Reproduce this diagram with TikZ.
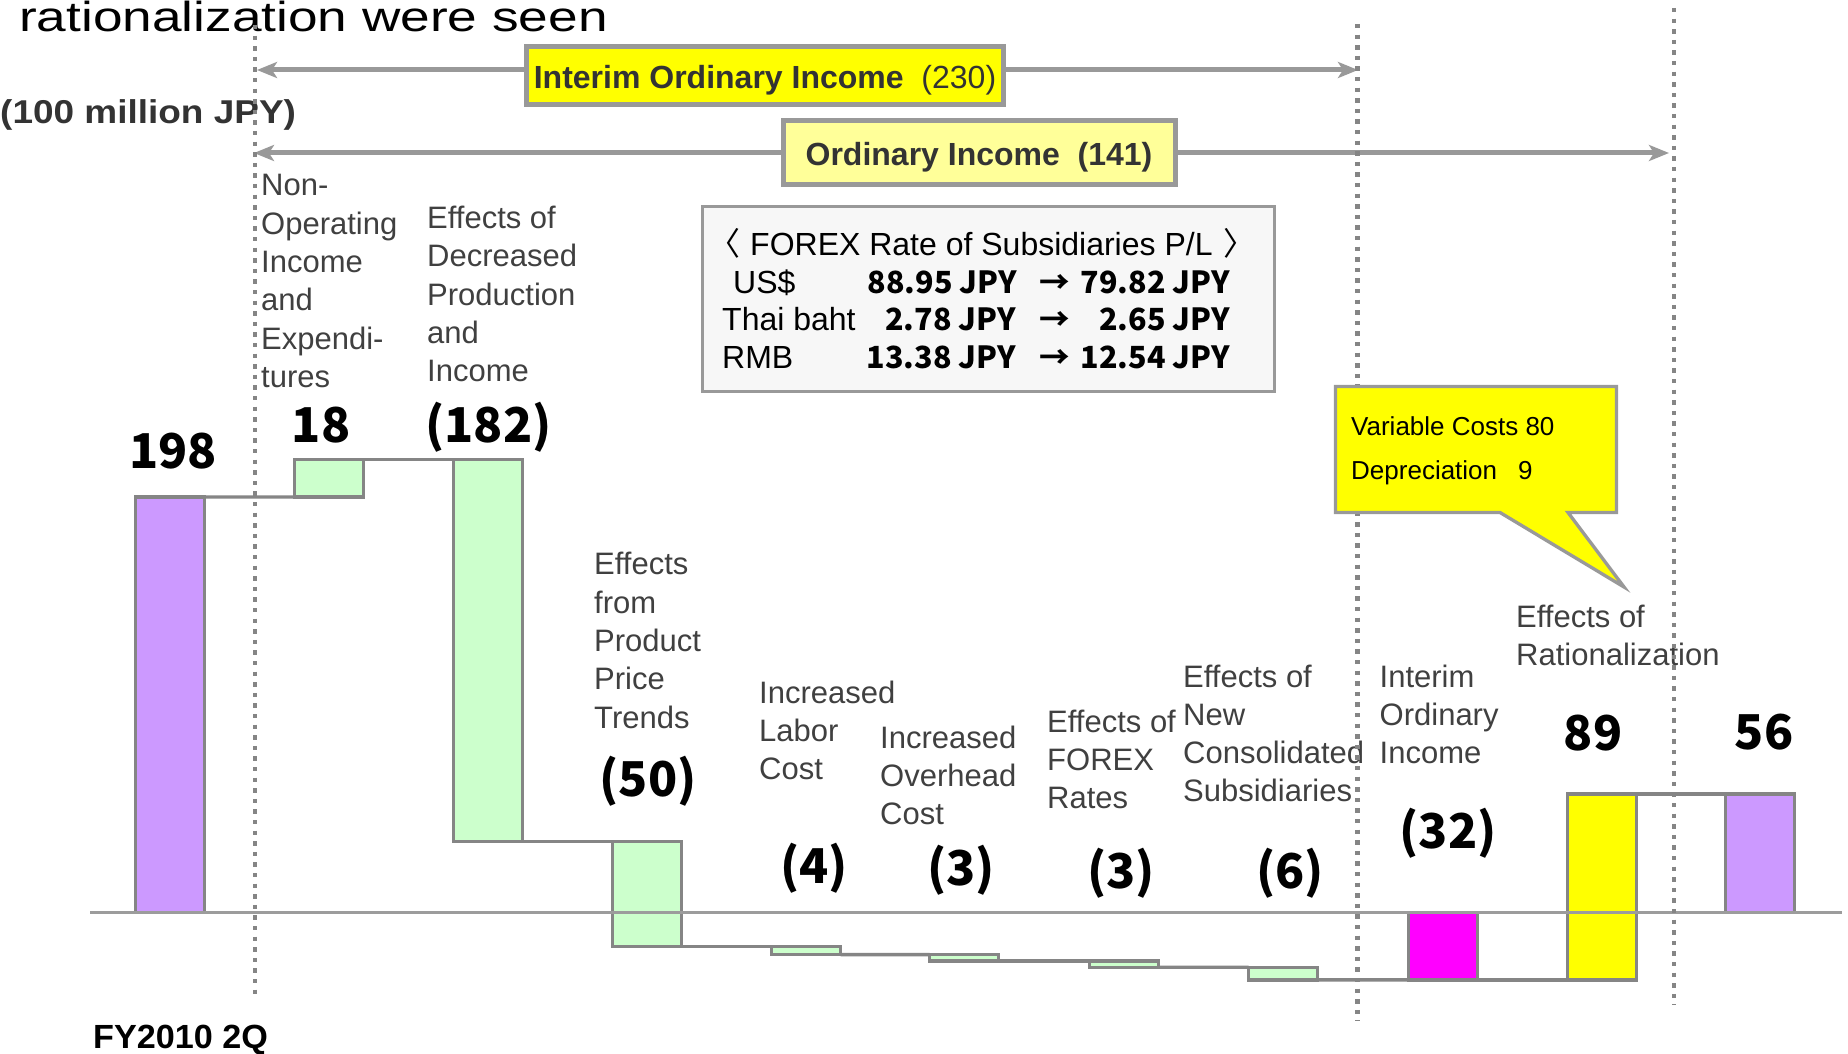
\documentclass[tikz,border=0pt]{standalone}
\usepackage{fontspec}
\setmainfont{Liberation Sans}
\newfontfamily\numfont{Noto Sans CJK JP}
\usetikzlibrary{arrows.meta}

\definecolor{edgegray}{HTML}{858585}
\definecolor{axisgray}{HTML}{9C9C9C}
\definecolor{linegray}{HTML}{999999}
\definecolor{labelgray}{HTML}{404040}
\definecolor{textdark}{HTML}{333333}
\definecolor{barpurple}{HTML}{CC99FF}
\definecolor{bargreen}{HTML}{CCFFCC}
\definecolor{barmagenta}{HTML}{FF00FF}
\definecolor{baryellow}{HTML}{FFFF00}
\definecolor{paleyellow}{HTML}{FFFF99}
\definecolor{boxfill}{HTML}{F7F7F7}

% one waterfall bar: name, centre x, top y, bottom y, fill
\newcommand\wfbar[5]{%
  \node[wbar, fill=#5, minimum height={(#4)-(#3)}] (#1) at (#2,{((#3)+(#4))/2}) {};}

\begin{document}
\begin{tikzpicture}[x=1pt,y=-1pt,
  wbar/.style={draw=edgegray, line width=3.4pt, minimum width=69pt, inner sep=0pt, outer sep=0pt},
  link/.style={draw=edgegray, line width=3.4pt},
  axisline/.style={draw=axisgray, line width=3.2pt},
  divider/.style={draw=edgegray, line width=4.4pt, dash pattern=on 4.4pt off 6.2pt},
  span/.style={draw=linegray, line width=5pt, -{Stealth[length=20pt,width=16pt,inset=5pt]}},
  cat/.style={anchor=north west, align=left, inner sep=0pt, text=labelgray,
    font=\fontsize{31}{38.3}\selectfont},
  val/.style={anchor=base, inner sep=0pt, font={\numfont\bfseries\fontsize{48}{48}\selectfont}},
  fxname/.style={anchor=base west, inner sep=0pt, font=\fontsize{32}{32}\selectfont},
  fxnum/.style={inner sep=0pt, font={\numfont\bfseries\fontsize{30.5}{30.5}\selectfont}},
  banner/.style={draw=linegray, line width=5pt, inner sep=0pt, text=textdark,
    text height=25pt, text depth=0pt, font=\fontsize{32}{32}\selectfont}
]
\useasboundingbox (0,0) rectangle (1848,1054);
\fill[white] (0,0) rectangle (1848,1054);
\clip (0,0) rectangle (1848,1054);

% heading fragment and unit
\node[anchor=base west, inner sep=0pt, xscale=1.267, font=\fontsize{42}{42}\selectfont]
  (title) at (19,32) {rationalization were seen};
\node[anchor=base west, inner sep=0pt, xscale=1.12, text=textdark,
  font=\bfseries\fontsize{33}{33}\selectfont] (unit) at (0,123.3) {(100 million JPY)};
\node[anchor=base west, inner sep=0pt, xscale=1.02, font=\bfseries\fontsize{33.5}{33.5}\selectfont]
  (fy) at (93,1048.5) {FY2010 2Q};

% waterfall bars
\wfbar{b0}{170}{497.0}{912.6}{barpurple}
\wfbar{b1}{329}{459.2}{497.0}{bargreen}
\wfbar{b2}{488}{459.2}{841.2}{bargreen}
\wfbar{b3}{647}{841.2}{946.2}{bargreen}
\wfbar{b4}{806}{946.2}{954.6}{bargreen}
\wfbar{b5}{964}{954.6}{960.9}{bargreen}
\wfbar{b6}{1124}{960.9}{967.2}{bargreen}
\wfbar{b7}{1283}{967.2}{979.8}{bargreen}
\wfbar{b8}{1443}{912.6}{979.8}{barmagenta}
\wfbar{b9}{1602}{794.0}{979.8}{baryellow}
\wfbar{b10}{1760}{794.0}{912.6}{barpurple}

% running-total links
\draw[link] (b0.north east) -- (b1.south west);
\draw[link] (b1.north east) -- (b2.north west);
\draw[link] (b2.south east) -- (b3.north west);
\draw[link] (b3.south east) -- (b4.north west);
\draw[link] (b4.south east) -- (b5.north west);
\draw[link] (b5.south east) -- (b6.north west);
\draw[link] (b6.south east) -- (b7.north west);
\draw[link] (b7.south east) -- (b8.south west);
\draw[link] (b8.south east) -- (b9.south west);
\draw[link] (b9.north east) -- (b10.north west);

% zero line
\coordinate (axL) at (90,912.6);
\coordinate (axR) at (1842,912.6);
\draw[axisline] (axL) -- (axR);

% values
\node[val] (v0) at (173,468) {198};
\node[val] (v1) at (321,442) {18};
\node[val] (v2) at (488.5,442) {(182)};
\node[val] (v3) at (648,796) {(50)};
\node[val] (v4) at (814,883) {(4)};
\node[val] (v5) at (961,885) {(3)};
\node[val] (v6) at (1121,888) {(3)};
\node[val] (v7) at (1290,888) {(6)};
\node[val] (v8) at (1448,848) {(32)};
\node[val] (v9) at (1593,750) {89};
\node[val] (v10) at (1764,749) {56};

% category captions
\node[cat] (lNonOp) at (261,174.4) {Non-\\Operating\\Income\\and\\Expendi-\\tures};
\node[cat] (lProd) at (427,206) {Effects of\\Decreased\\Production\\and\\Income};
\node[cat] (lPrice) at (594,552.3) {Effects\\from\\Product\\Price\\Trends};
\node[cat] (lLabor) at (759,680.7) {Increased\\Labor\\Cost};
\node[cat] (lOver) at (880,725.7) {Increased\\Overhead\\Cost};
\node[cat] (lFx) at (1047,709.4) {Effects of\\FOREX\\Rates};
\node[cat] (lNew) at (1183,664.4) {Effects of\\New\\Consolidated\\Subsidiaries};
\node[cat] (lInt) at (1379.5,664.7) {Interim\\Ordinary\\Income};
\node[cat] (lRat) at (1516,604.7) {Effects of\\Rationalization};

% period spans
\coordinate (iL) at (257,70);
\coordinate (iR) at (1358,70);
\coordinate (oL) at (254,153);
\coordinate (oR) at (1669,153);
\node[banner, fill=baryellow, minimum width=477pt, minimum height=58pt]
  (interim) at (765,75.8) {\textbf{Interim Ordinary Income}\ \ (230)};
\node[banner, fill=paleyellow, minimum width=392pt, minimum height=63.4pt]
  (ordinary) at (979,152.5) {\textbf{Ordinary Income\ \ (141)}};
\draw[span] (interim.west |- iL) -- (iL);
\draw[span] (interim.east |- iR) -- (iR);
\draw[span] (ordinary.west |- oL) -- (oL);
\draw[span] (ordinary.east |- oR) -- (oR);

% exchange-rate table
\node[draw=linegray, line width=3pt, fill=boxfill, minimum width=572pt, minimum height=185pt,
  inner sep=0pt] (forex) at (988.4,299) {};
\node[fxname] (fxHead) at (708,255)
  {{\numfont 〈}\hspace{10pt}FOREX Rate of Subsidiaries P/L\hspace{11pt}{\numfont 〉}};
\node[fxname] (usd) at (733,293.3) {US\$};
\node[fxname] (thb) at (722,330) {Thai baht};
\node[fxname] (rmb) at (722,368) {RMB};
\node[fxnum, anchor=base east] (usdA) at (1017,293.3) {88.95 JPY};
\node[fxnum, anchor=base] (usdArr) at (1055,293.3) {→};
\node[fxnum, anchor=base east] (usdB) at (1230,293.3) {79.82 JPY};
\node[fxnum, anchor=base east] (thbA) at (1016,330) {2.78 JPY};
\node[fxnum, anchor=base] (thbArr) at (1055,330) {→};
\node[fxnum, anchor=base east] (thbB) at (1230,330) {2.65 JPY};
\node[fxnum, anchor=base east] (rmbA) at (1016,368) {13.38 JPY};
\node[fxnum, anchor=base] (rmbArr) at (1055,368) {→};
\node[fxnum, anchor=base east] (rmbB) at (1230,368) {12.54 JPY};

% period dividers
\coordinate (dA1) at (255,25);
\coordinate (dA2) at (255,999);
\coordinate (dB1) at (1357.5,24);
\coordinate (dB2) at (1357.5,1021);
\coordinate (dC1) at (1674,8);
\coordinate (dC2) at (1674,1005);
\draw[divider] (dA1) -- (dA2);
\draw[divider] (dB1) -- (dB2);
\draw[divider] (dC1) -- (dC2);

% rationalization callout, laid over the divider
\coordinate (ctip) at (1624,587);
\draw[draw=linegray, line width=3.3pt, fill=baryellow]
  (1335.5,386.5) -- (1616.5,386.5) -- (1616.5,512.5) -- (1568,512.5) -- (ctip)
  -- (1500,512.5) -- (1335.5,512.5) -- cycle;
\node[anchor=north west, align=left, inner sep=0pt, font=\fontsize{26}{44}\selectfont]
  (calloutText) at (1351,416.4) {Variable Costs 80\\Depreciation\hspace{21pt}9};
\end{tikzpicture}
\end{document}
